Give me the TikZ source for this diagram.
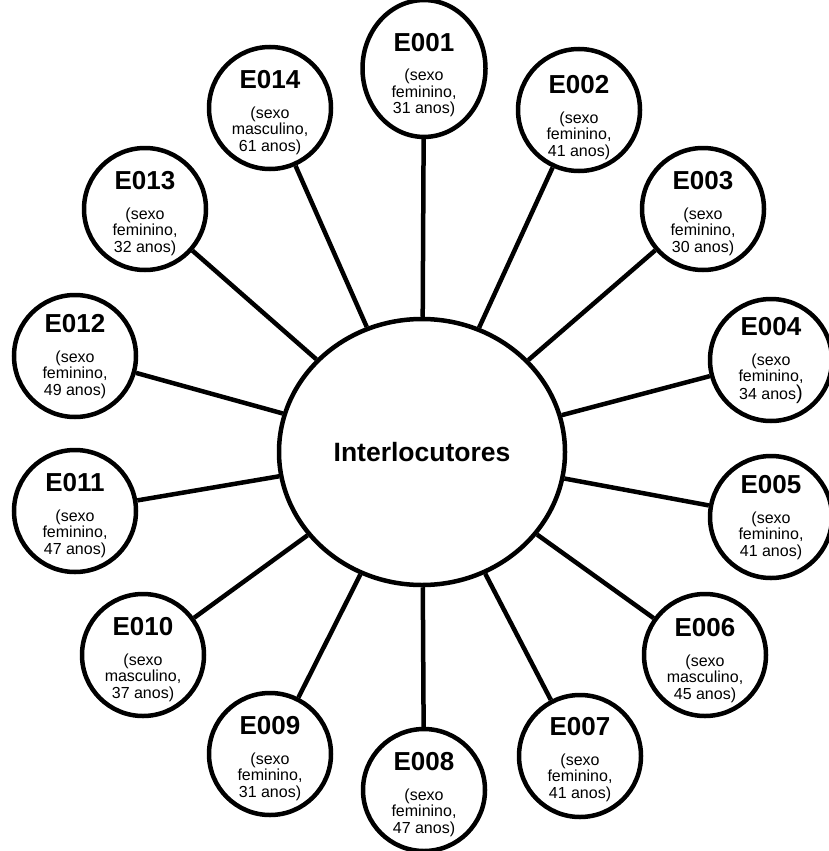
\documentclass[tikz,border=0pt]{standalone}
\usepackage{fontspec}
\setmainfont{Liberation Sans}
\usetikzlibrary{shapes.geometric}
% one interviewee: [downward shift of the text], code, sex, age
\newcommand{\pessoa}[4][4pt]{{\fontsize{26}{26}\selectfont\bfseries\rule{0pt}{\dimexpr19pt+#1*2\relax}#2}\\[13pt](sexo\\#3,\\#4}
\begin{document}
\begin{tikzpicture}[x=1pt,y=-1pt,
  hub/.style={draw, line width=4.5pt, ellipse, minimum width=286pt, minimum height=266pt,
    inner sep=0pt, font=\fontsize{26.5}{30}\selectfont\bfseries},
  person/.style={draw, line width=4.5pt, circle, minimum size=122pt, inner sep=0pt,
    align=center, font=\fontsize{16}{16.5}\selectfont},
  spoke/.style={line width=4.5pt}]
\useasboundingbox (0,0) rectangle (829,851);

\node[hub] (hub) at (422,452) {Interlocutores};

\node[person, ellipse, minimum width=123pt, minimum height=131pt]
                  (e01) at (424,68.5) {\pessoa[6pt]{E001}{feminino}{31 anos)}};
\node[person] (e02) at (579,110) {\pessoa[7pt]{E002}{feminino}{41 anos)}};
\node[person] (e03) at (703,209) {\pessoa{E003}{feminino}{30 anos)}};
\node[person] (e04) at (771,360) {\pessoa[0pt]{E004}{feminino}{34 anos{\fontsize{20}{20}\selectfont)}}};
\node[person] (e05) at (771,517) {\pessoa[0pt]{E005}{feminino}{41 anos)}};
\node[person] (e06) at (705,655) {\pessoa[5pt]{E006}{masculino}{45 anos)}};
\node[person] (e07) at (580,756) {\pessoa[3pt]{E007}{feminino}{41 anos)}};
\node[person] (e08) at (424,790) {\pessoa{E008}{feminino}{47 anos)}};
\node[person] (e09) at (270,754) {\pessoa{E009}{feminino}{31 anos)}};
\node[person] (e10) at (143,655) {\pessoa{E010}{masculino}{37 anos)}};
\node[person] (e11) at (75,511)  {\pessoa{E011}{feminino}{47 anos)}};
\node[person] (e12) at (75,356)  {\pessoa[0pt]{E012}{feminino}{49 anos)}};
\node[person] (e13) at (145,209) {\pessoa{E013}{feminino}{32 anos)}};
\node[person] (e14) at (270,108) {\pessoa{E014}{masculino}{61 anos)}};

\foreach \p in {e01,e02,e03,e04,e05,e06,e07,e08,e09,e10,e11,e12,e13,e14}
  \draw[spoke] (hub) -- (\p);
\end{tikzpicture}
\end{document}
